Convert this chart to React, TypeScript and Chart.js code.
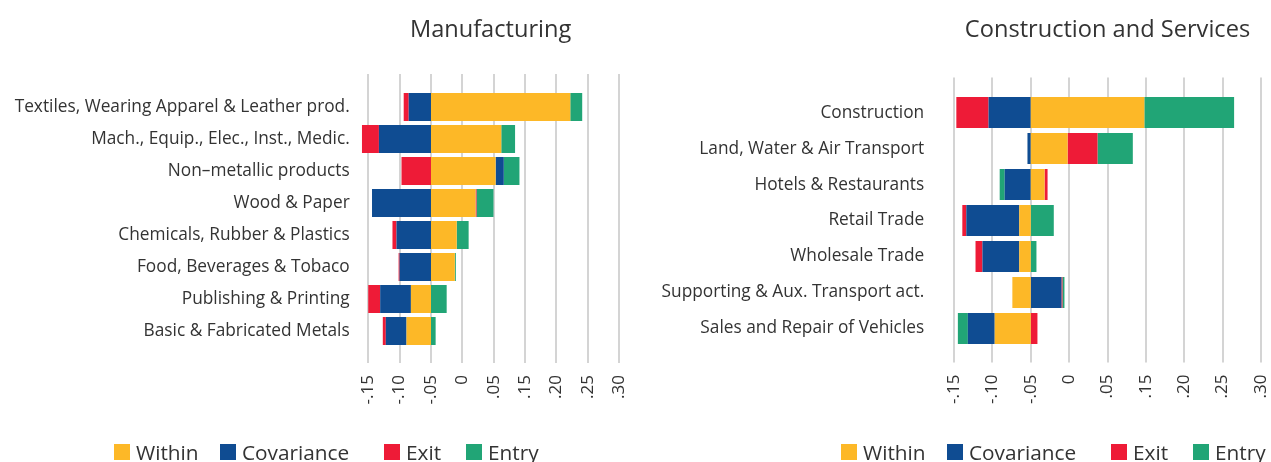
import React, { useEffect, useRef } from "react";
import { Chart, registerables } from "chart.js";

Chart.register(...registerables);

// ---------- data ----------
const SERIES_NAMES = ["Within", "Covariance", "Exit", "Entry"];
const SERIES_COLORS = ["#FDB827", "#0F4C92", "#EE1B37", "#21A576"];

const MANUF_CATEGORIES = [
  "Textiles, Wearing Apparel & Leather prod.",
  "Mach., Equip., Elec., Inst., Medic.",
  "Non\u2013metallic products",
  "Wood & Paper",
  "Chemicals, Rubber & Plastics",
  "Food, Beverages & Tobaco",
  "Publishing & Printing",
  "Basic & Fabricated Metals",
];
const MANUF_WITHIN = [0.222, 0.112, 0.103, 0.071, 0.041, 0.038, -0.032, -0.039];
const MANUF_COVARIANCE = [-0.0355, -0.083, 0.013, -0.094, -0.055, -0.05, -0.049, -0.033];
const MANUF_EXIT = [-0.008, -0.027, -0.047, 0.0016, -0.0064, -0.0016, -0.019, -0.0048];
const MANUF_ENTRY = [0.019, 0.022, 0.025, 0.027, 0.019, 0.0016, 0.025, 0.0074];

const SERV_CATEGORIES = [
  "Construction",
  "Land, Water & Air Transport",
  "Hotels & Restaurants",
  "Retail Trade",
  "Wholesale Trade",
  "Supporting & Aux. Transport act.",
  "Sales and Repair of Vehicles",
];
const SERV_WITHIN = [0.148, 0.048, 0.018, -0.015, -0.015, -0.024, -0.047];
const SERV_COVARIANCE = [-0.055, -0.0043, -0.034, -0.069, -0.048, 0.04, -0.035];
const SERV_EXIT = [-0.042, 0.039, 0.0039, -0.0052, -0.009, 0.0013, 0.0087];
const SERV_ENTRY = [0.117, 0.046, -0.0065, 0.03, 0.0074, 0.0026, -0.013];

const TICK_VALUES = [-0.1, -0.05, 0, 0.05, 0.1, 0.15, 0.2, 0.25, 0.3];
const TICK_LABELS = ["-.15", "-.10", "-.05", "0", ".05", ".15", ".20", ".25", ".30"];

// ---------- style ----------
const FONT = "'Open Sans', 'Noto Sans', sans-serif";
const TEXT = "#333333";
const GRID = "#d4d4d4";

const extendedGrid = {
  id: "extendedGrid",
  beforeDatasetsDraw(chart: any, _args: any, opts: any) {
    const { ctx, chartArea, scales } = chart;
    const xs = scales.x;
    ctx.save();
    ctx.strokeStyle = opts.color;
    ctx.lineWidth = opts.width;
    xs.ticks.forEach((t: any) => {
      const px = Math.round(xs.getPixelForValue(t.value));
      ctx.beginPath();
      ctx.moveTo(px, chartArea.top - opts.above);
      ctx.lineTo(px, chartArea.bottom + opts.below);
      ctx.stroke();
    });
    ctx.restore();
  },
};

type PanelProps = {
  title: string;
  categories: string[];
  series: number[][];
  left: number;
  width: number;
  xMin: number;
  xMax: number;
  yAxisWidth: number;
  yPadding: number;
  padRight: number;
  titleBottom: number;
  xAxisHeight: number;
  catPct: number;
};

function Panel(p: PanelProps) {
  const ref = useRef<HTMLCanvasElement | null>(null);
  useEffect(() => {
    if (!ref.current) return;
    const chart = new Chart(ref.current, {
      type: "bar",
      data: {
        labels: p.categories,
        datasets: SERIES_NAMES.map((name, i) => ({
          label: name,
          data: p.series[i],
          backgroundColor: SERIES_COLORS[i],
          borderWidth: 0,
          barPercentage: 1,
          categoryPercentage: p.catPct,
        })),
      },
      options: {
        indexAxis: "y",
        responsive: false,
        animation: false,
        devicePixelRatio: 1,
        layout: { padding: { left: 0, right: p.padRight, top: 0, bottom: 0 } },
        plugins: {
          legend: { display: false },
          tooltip: { enabled: false },
          title: {
            display: true,
            text: p.title,
            fullSize: false,
            color: TEXT,
            font: { family: FONT, size: 23.6, weight: "normal" },
            padding: { top: 16, bottom: p.titleBottom },
          },
          extendedGrid: { color: GRID, width: 2, above: 17, below: 16 },
        } as any,
        scales: {
          x: {
            type: "linear",
            stacked: true,
            min: p.xMin,
            max: p.xMax,
            afterBuildTicks: (s: any) => {
              s.ticks = TICK_VALUES.map((v) => ({ value: v }));
            },
            afterFit: (s: any) => {
              s.height = p.xAxisHeight;
              s.paddingLeft = 0;
              s.paddingRight = 0;
            },
            grid: { display: false, drawTicks: false },
            border: { display: false },
            ticks: {
              autoSkip: false,
              minRotation: 90,
              maxRotation: 90,
              padding: 28,
              color: TEXT,
              font: { family: FONT, size: 17 },
              callback: (_v: any, i: number) => TICK_LABELS[i],
            },
          },
          y: {
            type: "category",
            stacked: true,
            afterFit: (s: any) => {
              s.width = p.yAxisWidth;
            },
            grid: { display: false, drawTicks: false },
            border: { display: false },
            ticks: {
              padding: p.yPadding,
              color: TEXT,
              font: { family: FONT, size: 17.3 },
            },
          },
        },
      },
      plugins: [extendedGrid],
    });
    return () => chart.destroy();
  }, []);
  return (
    <canvas
      ref={ref}
      width={p.width}
      height={462}
      style={{ position: "absolute", left: p.left, top: 0, width: p.width, height: 462, display: "block" }}
    />
  );
}

const LEGEND_OFFSETS = [0, 106, 270, 352];

function Legend({ left }: { left: number }) {
  return (
    <div style={{ position: "absolute", left, top: 440, height: 24, width: 460 }}>
      {SERIES_NAMES.map((n, i) => (
        <div
          key={n}
          style={{
            position: "absolute",
            left: LEGEND_OFFSETS[i],
            top: 0,
            height: 24,
            display: "flex",
            alignItems: "center",
            whiteSpace: "nowrap",
          }}
        >
          <span style={{ display: "inline-block", width: 16, height: 16, background: SERIES_COLORS[i], marginRight: 6 }} />
          <span style={{ fontFamily: FONT, fontSize: 20.8, color: TEXT, lineHeight: "24px" }}>{n}</span>
        </div>
      ))}
    </div>
  );
}

export default function App() {
  return (
    <div
      style={{
        position: "fixed",
        left: 0,
        top: 0,
        width: 1271,
        height: 462,
        background: "#ffffff",
        overflow: "hidden",
      }}
    >
      <Panel
        title="Manufacturing"
        categories={MANUF_CATEGORIES}
        series={[MANUF_WITHIN, MANUF_COVARIANCE, MANUF_EXIT, MANUF_ENTRY]}
        left={0}
        width={640}
        xMin={-0.12}
        xMax={0.31}
        yAxisWidth={355.7}
        yPadding={6}
        padRight={14.5}
        titleBottom={46.8}
        xAxisHeight={115}
        catPct={0.875}
      />
      <Panel
        title="Construction and Services"
        categories={SERV_CATEGORIES}
        series={[SERV_WITHIN, SERV_COVARIANCE, SERV_EXIT, SERV_ENTRY]}
        left={640}
        width={631}
        xMin={-0.105}
        xMax={0.305}
        yAxisWidth={310.2}
        yPadding={26}
        padRight={6.2}
        titleBottom={50.3}
        xAxisHeight={115.5}
        catPct={0.861}
      />
      <Legend left={114} />
      <Legend left={841} />
    </div>
  );
}
